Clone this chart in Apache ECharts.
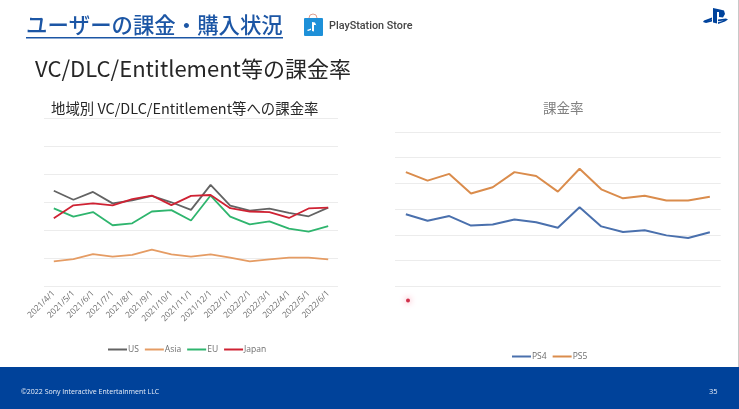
<!DOCTYPE html>
<html>
<head>
<meta charset="utf-8">
<style>
  html, body { margin: 0; padding: 0; background: #fff; }
  #chart { width: 739px; height: 409px; filter: blur(0.5px); }
</style>
<script src="https://cdn.jsdelivr.net/npm/echarts@6/dist/echarts.min.js"></script>
</head>
<body>
<div id="chart"></div>
<script>
const months = ['2021/4/1', '2021/5/1', '2021/6/1', '2021/7/1', '2021/8/1', '2021/9/1', '2021/10/1', '2021/11/1', '2021/12/1', '2022/1/1', '2022/2/1', '2022/3/1', '2022/4/1', '2022/5/1', '2022/6/1'];

// left chart, regions (no scale printed on the slide, so units are gridline steps)
const us = [3.40, 3.08, 3.36, 2.95, 3.06, 3.22, 2.99, 2.72, 3.61, 2.87, 2.69, 2.76, 2.61, 2.49, 2.80];
const asia = [0.88, 0.96, 1.14, 1.05, 1.11, 1.30, 1.13, 1.05, 1.13, 1.01, 0.88, 0.95, 1.01, 1.01, 0.95];
const eu = [2.77, 2.48, 2.64, 2.17, 2.24, 2.66, 2.71, 2.34, 3.23, 2.48, 2.20, 2.31, 2.05, 1.94, 2.14];
const japan = [2.42, 2.88, 2.95, 2.88, 3.10, 3.23, 2.89, 3.22, 3.25, 2.78, 2.66, 2.64, 2.43, 2.77, 2.80];

// right chart, platforms
const ps4 = [2.80, 2.55, 2.73, 2.36, 2.40, 2.60, 2.49, 2.28, 3.07, 2.33, 2.11, 2.18, 1.98, 1.88, 2.10];
const ps5 = [4.44, 4.11, 4.37, 3.61, 3.85, 4.44, 4.29, 3.68, 4.57, 3.77, 3.42, 3.52, 3.34, 3.34, 3.48];

const colors = {
  us: '#636363',
  asia: '#e59c64',
  eu: '#2fb56e',
  japan: '#cf2233',
  ps4: '#4a70ad',
  ps5: '#da8c4c',
  grid: '#ececec',
  label: '#6e6e6e',
  band: '#00429a',
  heading: '#1c56a5',
  text: '#262626'
};

const jpFont = '"Noto Sans CJK JP", "Noto Sans", sans-serif';
const chart = echarts.init(document.getElementById('chart'));

function lineSeries(name, data, color, index, width) {
  return {
    name: name,
    type: 'line',
    data: data,
    xAxisIndex: index,
    yAxisIndex: index,
    symbol: 'none',
    lineStyle: { color: color, width: width },
    itemStyle: { color: color }
  };
}

function valueAxis(index, max) {
  return {
    type: 'value',
    gridIndex: index,
    min: 0,
    max: max,
    interval: 1,
    axisLine: { show: false },
    axisTick: { show: false },
    axisLabel: { show: false },
    splitLine: { lineStyle: { color: colors.grid, width: 1 } }
  };
}

const legendBase = {
  icon: 'rect',
  itemWidth: 19,
  itemHeight: 2,
  itemGap: 6,
  textStyle: { color: colors.label, fontSize: 8.5, padding: [0, 0, 0, -4], fontFamily: 'Open Sans, sans-serif' }
};

chart.setOption({
  animation: false,
  backgroundColor: '#fff',
  textStyle: { fontFamily: jpFont },
  title: [
    { text: '地域別 VC/DLC/Entitlement等への課金率', left: 46, top: 96, textStyle: { fontSize: 14.4, fontWeight: 'normal', color: colors.text, fontFamily: jpFont } },
    { text: '課金率', left: 538, top: 96, textStyle: { fontSize: 13.5, fontWeight: 'normal', color: '#808080', fontFamily: jpFont } }
  ],
  grid: [
    { left: 44, top: 118, width: 294, height: 168 },
    { left: 395, top: 132, width: 325.7, height: 154.3 }
  ],
  xAxis: [
    {
      type: 'category',
      gridIndex: 0,
      data: months,
      axisLine: { show: false },
      axisTick: { show: false },
      axisLabel: { interval: 0, rotate: 45, fontSize: 8.4, color: colors.label, margin: 6, fontFamily: 'Open Sans, sans-serif' }
    },
    { type: 'category', gridIndex: 1, data: months, axisLine: { show: false }, axisTick: { show: false }, axisLabel: { show: false } }
  ],
  yAxis: [valueAxis(0, 6), valueAxis(1, 6)],
  legend: [
    { ...legendBase, data: ['US', 'Asia', 'EU', 'Japan'], left: 103, top: 340 },
    { ...legendBase, data: ['PS4', 'PS5'], left: 507, top: 347 }
  ],
  series: [
    lineSeries('US', us, colors.us, 0, 1.8),
    lineSeries('Asia', asia, colors.asia, 0, 1.8),
    lineSeries('EU', eu, colors.eu, 0, 1.8),
    lineSeries('Japan', japan, colors.japan, 0, 1.8),
    lineSeries('PS4', ps4, colors.ps4, 1, 2),
    lineSeries('PS5', ps5, colors.ps5, 1, 2)
  ],
  graphic: [
    // slide header
    { type: 'text', left: 26, top: 14, style: { text: 'ユーザーの課金・購入状況', fontSize: 21.4, fontWeight: 500, fontFamily: jpFont, fill: colors.heading } },
    { type: 'rect', shape: { x: 26, y: 37, width: 257, height: 1.4 }, style: { fill: colors.heading } },
    { type: 'text', left: 35, top: 58, style: { text: 'VC/DLC/Entitlement等の課金率', fontSize: 22, fontFamily: jpFont, fill: colors.text } },
    // store bag and wordmark
    { type: 'arc', shape: { cx: 313, cy: 18, r: 4, startAngle: Math.PI, endAngle: 0, clockwise: true }, style: { stroke: '#e0a090', fill: 'none', lineWidth: 1 } },
    { type: 'rect', shape: { x: 304, y: 18, width: 19, height: 18, r: 1 }, style: { fill: '#1e90d8' } },
    { type: 'polygon', shape: { points: [[312, 22], [312, 31], [314, 31.5], [314, 25], [316, 25], [317, 27], [315, 22.5]] }, style: { fill: '#fff' } },
    { type: 'polygon', shape: { points: [[307, 30], [311, 28.5], [311, 30], [308, 31]] }, style: { fill: '#fff' } },
    { type: 'text', left: 329, top: 21, style: { text: 'PlayStation Store', fontSize: 10.8, fontWeight: 500, fontFamily: 'Roboto, sans-serif', fill: '#444' } },
    // PlayStation mark
    { type: 'polygon', shape: { points: [[713, 8], [713, 22.5], [717, 23.5], [717, 12], [719, 12], [719, 17], [723, 17.5], [725, 14], [724, 10.5], [720, 9.5]] }, style: { fill: '#00439c' } },
    { type: 'polygon', shape: { points: [[712, 17.5], [704, 20.5], [703, 22], [706, 23], [712, 21.5], [712, 19.8], [708, 21], [712, 19.5]] }, style: { fill: '#00439c' } },
    { type: 'polygon', shape: { points: [[718, 19.5], [726, 18.5], [728, 19.5], [725, 21.5], [718, 24], [718, 22.3], [724, 20.5], [718, 21.3]] }, style: { fill: '#00439c' } },
    // laser pointer dot
    { type: 'circle', shape: { cx: 408, cy: 300.5, r: 2 }, style: { fill: '#d0304a', shadowBlur: 6, shadowColor: '#f06080' } },
    // slide edge and footer band
    { type: 'rect', shape: { x: 738, y: 0, width: 1, height: 367 }, style: { fill: '#c8c8c8' } },
    { type: 'rect', shape: { x: 0, y: 367, width: 739, height: 42 }, style: { fill: colors.band } },
    { type: 'text', left: 21, top: 388, style: { text: '©2022 Sony Interactive Entertainment LLC', fontSize: 7, fontFamily: 'Open Sans, sans-serif', fill: '#e8eef8' } },
    { type: 'text', left: 709, top: 388, style: { text: '35', fontSize: 7.5, fontFamily: 'Open Sans, sans-serif', fill: '#e8eef8' } }
  ]
});
</script>
</body>
</html>
